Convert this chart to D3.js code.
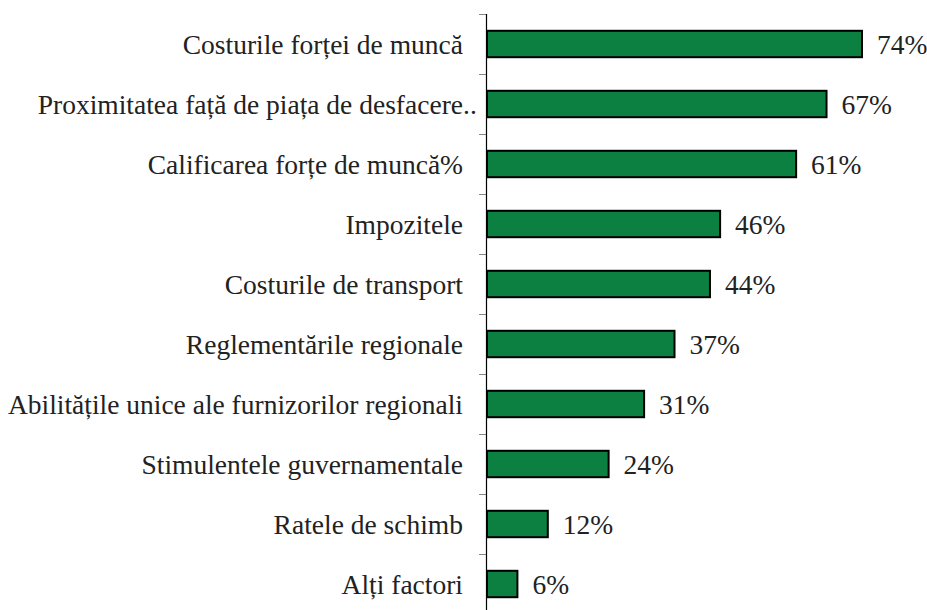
<!DOCTYPE html>
<meta charset="utf-8">
<script src="https://d3js.org/d3.v7.min.js"></script>
<style>
    body { margin: 0; background: #fff; }
</style>
<div id="vis"></div>
<script>
    // data
    var factori = ["Costurile forței de muncă", "Proximitatea față de piața de desfacere..",
        "Calificarea forțe de muncă%", "Impozitele", "Costurile de transport",
        "Reglementările regionale", "Abilitățile unice ale furnizorilor regionali",
        "Stimulentele guvernamentale", "Ratele de schimb", "Alți factori"];
    var procente = [74, 67, 61, 46, 44, 37, 31, 24, 12, 6];

    var wid = 927, hgt = 610;
    var ax0 = 487, top0 = 14, step = 60;
    var fnt = "'Liberation Serif'";

    var svg = d3.select("#vis")
        .append("svg")
        .attr("width", wid)
        .attr("height", hgt);

    // scales
    var x = d3.scaleLinear()
        .domain([0, 74])
        .range([ax0, 862]);
    var y = d3.scaleBand()
        .domain(factori)
        .range([top0, top0 + step * factori.length])
        .paddingInner(0.56)
        .paddingOuter(0.28);

    // tick marks between categories
    svg.append("g")
        .selectAll("line")
        .data(d3.range(factori.length + 1))
        .enter()
        .append("line")
        .attr("x1", ax0 - 8)
        .attr("x2", ax0)
        .attr("y1", function (i) { return top0 + i * step + 0.5; })
        .attr("y2", function (i) { return top0 + i * step + 0.5; })
        .attr("stroke", "#888")
        .attr("stroke-width", 1);

    // bars
    svg.append("g")
        .selectAll("rect")
        .data(procente)
        .enter()
        .append("rect")
        .attr("x", x(0))
        .attr("y", function (d, i) { return y(factori[i]); })
        .attr("width", function (d) { return x(d) - x(0); })
        .attr("height", y.bandwidth())
        .attr("fill", "#0b8040")
        .attr("stroke", "#000")
        .attr("stroke-width", 2);

    // axis line
    svg.append("line")
        .attr("x1", ax0 - 0.5).attr("x2", ax0 - 0.5)
        .attr("y1", top0).attr("y2", hgt)
        .attr("stroke", "#000")
        .attr("stroke-width", 1.2);

    // category labels
    svg.append("g")
        .selectAll("text")
        .data(factori)
        .enter()
        .append("text")
        .attr("x", 463)
        .attr("y", function (d) { return y(d) + y.bandwidth() / 2; })
        .attr("dy", "0.36em")
        .attr("text-anchor", "end")
        .style("font-family", fnt)
        .style("font-size", "27.5px")
        .style("fill", "#222")
        .text(function (d) { return d.replace(/\.\.$/, ""); });
    // truncated label dots
    svg.append("g")
        .selectAll("text")
        .data(factori.filter(function (d) { return /\.\.$/.test(d); }))
        .enter()
        .append("text")
        .attr("x", 463)
        .attr("y", function (d) { return y(d) + y.bandwidth() / 2; })
        .attr("dy", "0.36em")
        .style("font-family", fnt)
        .style("font-size", "27.5px")
        .style("fill", "#222")
        .text("..");

    // value labels
    svg.append("g")
        .selectAll("text")
        .data(procente)
        .enter()
        .append("text")
        .attr("x", function (d) { return x(d) + 15; })
        .attr("y", function (d, i) { return y(factori[i]) + y.bandwidth() / 2; })
        .attr("dy", "0.36em")
        .style("font-family", fnt)
        .style("font-size", "27.5px")
        .style("fill", "#222")
        .text(function (d) { return d + "%"; });
</script>
